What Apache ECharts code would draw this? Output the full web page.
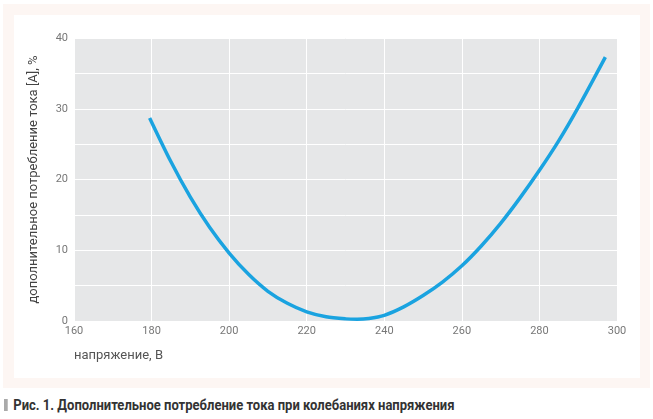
<!DOCTYPE html><html><head><meta charset="utf-8">
<script src="https://cdn.jsdelivr.net/npm/echarts@6/dist/echarts.min.js"></script>
<style>body{margin:0;background:#fff}#frame{position:absolute;left:3px;top:4px;width:647px;height:384px;background:#fdf6f3}#c{position:absolute;left:14px;top:15px;width:626px;height:363px;background:#fff}
#cap{position:absolute;left:4px;top:397px;font:bold 14px Roboto,sans-serif;color:#333;transform:scaleX(0.93);transform-origin:left;white-space:nowrap}
#cap span{display:inline-block;width:4px;height:12px;background:#aaa;margin-right:6px;vertical-align:-1px}</style></head><body>
<div id="frame"></div><div id="c"></div>
<div id="cap"><span></span>Рис. 1. Дополнительное потребление тока при колебаниях напряжения</div>
<script>
const voltage=[179.5,185,190,195,200,205,210,215,220,225,230,233,236,240,245,250,255,260,265,270,275,280,285,290,297];
const current=[28.7,22.5,17.5,13.2,9.6,6.6,4.2,2.5,1.3,0.6,0.3,0.25,0.35,0.8,2,3.6,5.5,7.8,10.6,13.8,17.4,21.3,25.5,30.2,37.3];
const ch=echarts.init(document.getElementById('c'));
const lab={color:'#777',fontSize:11,fontFamily:'Roboto'};
ch.setOption({animation:false,
grid:{left:60,top:23,right:23,bottom:57,show:true,backgroundColor:'#e6e7e8',borderWidth:0},
xAxis:{type:'value',min:160,max:300,interval:20,name:'напряжение, В',nameLocation:'start',nameGap:0,
 nameTextStyle:{color:'#555',fontSize:13,fontFamily:'Roboto',align:'left',verticalAlign:'top',padding:[28,0,0,0]},
 axisLine:{show:false},axisTick:{show:false},axisLabel:Object.assign({margin:5},lab),splitLine:{lineStyle:{color:'#fff',width:1}}},
yAxis:{type:'value',min:0,max:40,interval:5,name:'дополнительное потребление тока [A], %',nameLocation:'middle',nameGap:34,
 nameTextStyle:{color:'#444',fontSize:13,fontFamily:'Roboto'},
 axisLine:{show:false},axisTick:{show:false},axisLabel:Object.assign({margin:6,formatter:v=>v%10===0?v:''},lab),splitLine:{lineStyle:{color:'#fff',width:1}}},
series:[{type:'line',smooth:0.3,symbol:'none',data:voltage.map((v,i)=>[v,current[i]]),lineStyle:{color:'#1aa3e0',width:3.5}}]});
</script></body></html>
